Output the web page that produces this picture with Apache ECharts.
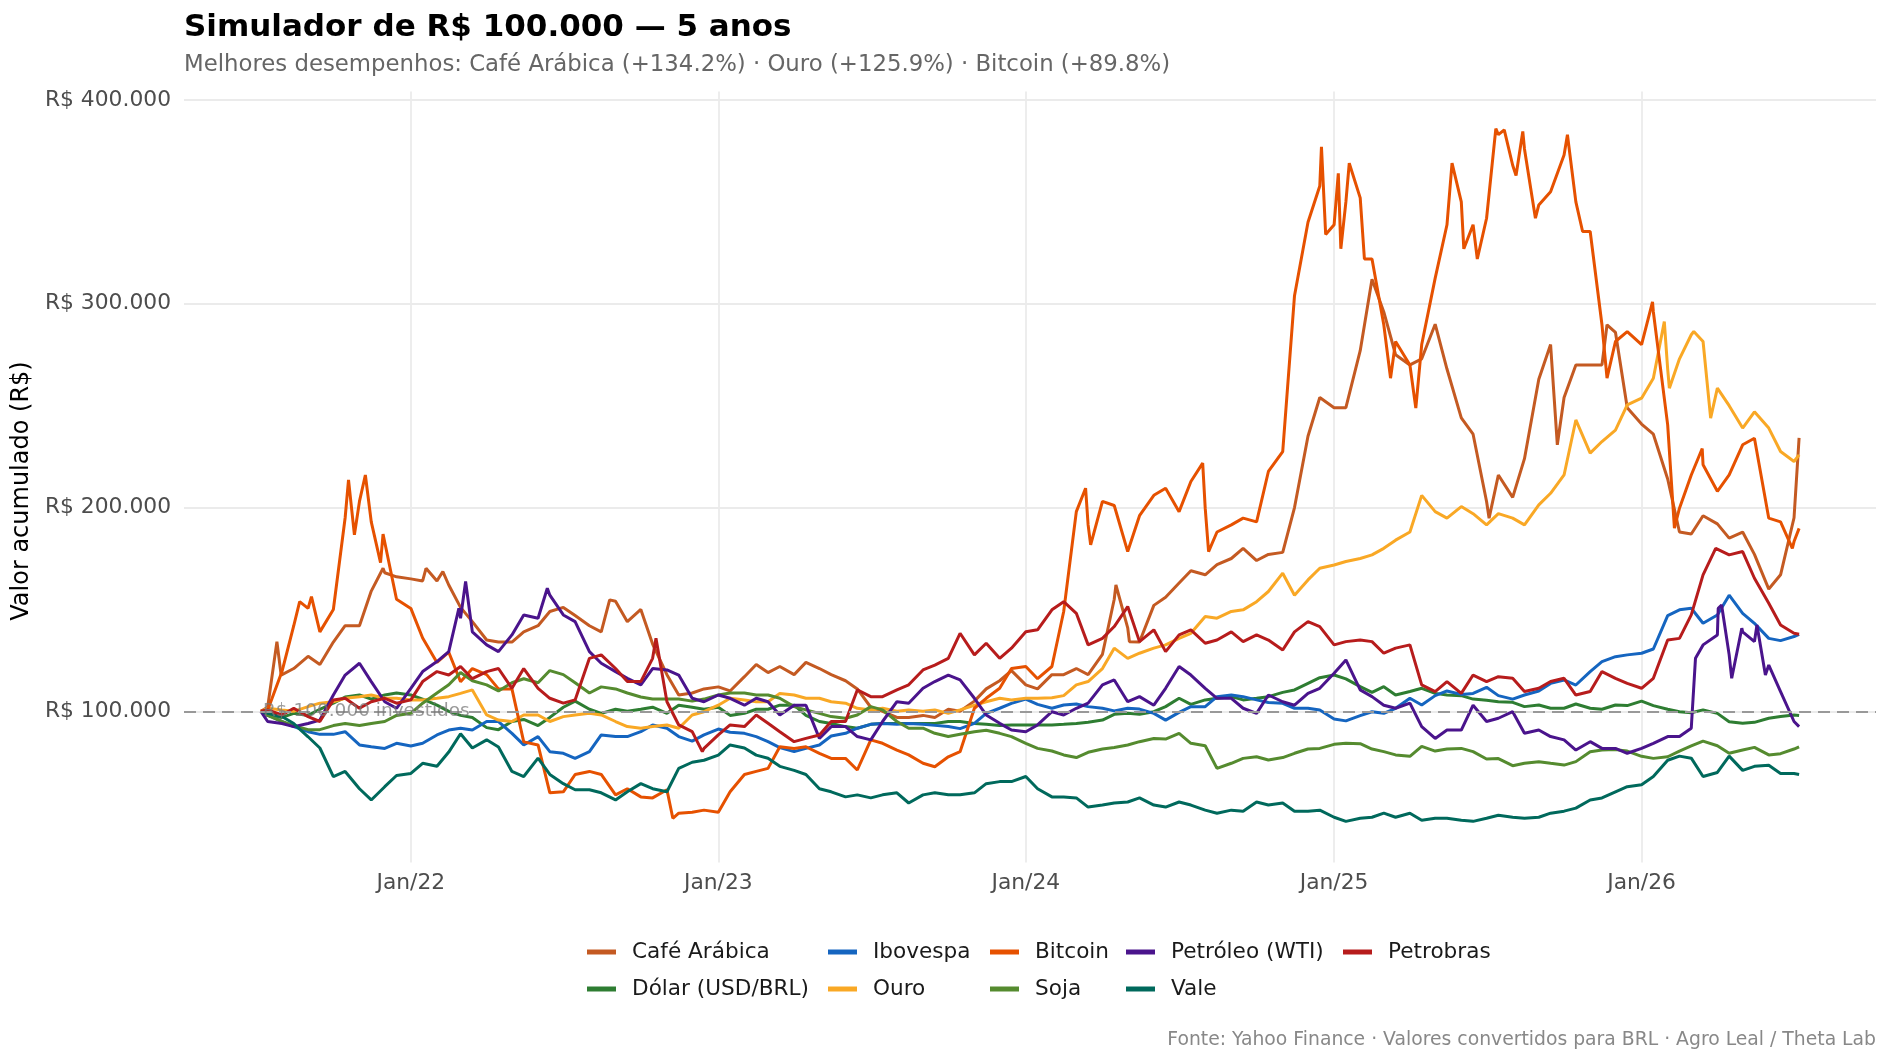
<!DOCTYPE html>
<html>
<head>
<meta charset="utf-8">
<script src="https://cdn.jsdelivr.net/npm/echarts@6/dist/echarts.min.js"></script>
<style>
  html, body { margin: 0; padding: 0; background: #fff; }
  #chart { width: 1889px; height: 1062px; }
</style>
</head>
<body>
<div id="chart"></div>
<script>
// datas de amostragem: dias 1 e 15 de cada mês
const datas = ['2021-07-07', '2021-07-15'];
for (let y = 2021; y <= 2026; y++) {
  for (let m = 1; m <= 12; m++) {
    if (y === 2021 && m < 8) continue;
    if (y === 2026 && m > 6) break;
    const mm = String(m).padStart(2, '0');
    datas.push(y + '-' + mm + '-01', y + '-' + mm + '-15');
  }
}
datas.push('2026-07-01', '2026-07-07');

// valor acumulado, em milhares de R$
const cafe = [
  100, 102, 118, 121, 127, 123, 134, 142, 142, 159, 168, 166,
  165, 164, 164, 162, 151, 144, 135, 134, 134, 139, 142, 149, 151, 147, 142, 139, 154, 144, 150, 133, 118, 108, 109, 111,
  112, 110, 117, 123, 119, 122, 118, 124, 121, 118, 115, 111, 102, 100, 97, 97, 98, 97, 101, 100, 105, 111, 115, 120,
  113, 111, 118, 118, 121, 118, 128, 155, 141, 134, 152, 156, 163, 169, 167, 172, 175, 180, 174, 177, 178, 200, 235, 254,
  249, 249, 277, 312, 296, 275, 270, 273, 290, 268, 244, 236, 203, 216, 205, 224, 263, 280, 254, 270, 270, 270, 286, 249,
  241, 236, 214, 188, 187, 196, 192, 185, 188, 177, 160, 167, 195, 234.2
];
const dolar = [
  100, 98, 97, 99, 98, 101, 104, 107, 108, 106, 108, 109,
  108, 106, 103, 100, 98, 97, 92, 91, 95, 96, 93, 97, 102, 105, 101, 99, 101, 100, 101, 102, 99, 103, 102, 101,
  102, 98, 99, 101, 101, 103, 103, 98, 95, 94, 92.5, 91.7, 93.6, 94, 94, 94, 94, 94, 95, 95, 94, 93.6, 93, 93.3,
  93.3, 93.3, 93.3, 93.6, 94, 94.6, 95.7, 98.5, 99, 98.5, 99.8, 102.3, 106.4, 103.4, 105.6, 106.4, 107.2, 105.6, 106.4, 107.2, 109.3, 110.5, 113.7, 116.5,
  117.8, 115.9, 112.1, 109.3, 112.1, 108, 109.7, 111.3, 108.8, 108, 107.7, 106, 105.4, 104.7, 104.4, 102.3, 103.1, 101.5, 101.5, 103.6, 101.5, 101, 103.1, 102.8,
  105, 102.8, 101, 99.8, 99.3, 100.7, 99, 94.9, 94.1, 94.6, 96.6, 97.5, 98.2, 97.9
];
const ibovespa = [
  100, 98.2, 95, 92.5, 90, 88.7, 88.7, 90, 83.5, 82.6, 81.8, 84.3,
  83, 84.3, 88.4, 90.8, 91.7, 90.8, 95, 95, 89.2, 83.5, 87.6, 80.2, 79.4, 76.9, 80.2, 88.4, 87.6, 87.6, 90, 93.3, 91.7, 87.6, 85.4, 88.4,
  91.3, 89.7, 89.2, 87.6, 85.1, 82.2, 80.2, 81.8, 83.5, 87.9, 89.2, 91.7, 93.6, 94, 93.6, 94, 93.6, 93.1, 92.5, 91.5, 94.1, 99, 101.5, 103.9,
  106, 103.4, 101.5, 103.1, 103.6, 102.3, 101.5, 100.2, 101.5, 101.1, 99, 95.7, 99.5, 102.3, 102.3, 107.2, 108, 107.2, 105.6, 104.3, 103.9, 101.5, 101.5, 100.7,
  96.2, 95.3, 97.9, 99.8, 99, 101.5, 106.4, 103.1, 107.7, 110, 108.3, 108.8, 111.8, 107.7, 106, 108, 110, 113.7, 115.4, 112.9, 119.5, 124.4, 126.8, 127.7,
  128.5, 130.6, 147, 149.8, 150.6, 143.2, 147.3, 157, 148.1, 143.2, 135.8, 134.7, 136.7, 137.8
];
const ouro = [
  100, 101.5, 100.6, 100, 102.3, 104, 104.7, 106.4, 107.2, 108, 106.4, 106.4,
  105.6, 105.6, 106.4, 107.2, 108.8, 110.5, 98.2, 95.7, 95, 98.2, 98.2, 95, 97.4, 98.2, 99, 98.2, 95, 92.5, 91.7, 92.5, 93.3, 91.7, 98.2, 99.8,
  103, 106.4, 105.6, 104.7, 104.7, 108.8, 108, 106.4, 106.4, 104.7, 104, 101.5, 100.7, 101.5, 100, 100.6, 100, 100.7, 99, 100.7, 103, 104.7, 106.4, 105.6,
  106.4, 106.4, 106.7, 107.7, 113, 114.6, 121, 131, 126, 128.5, 131, 132.6, 135.8, 138.3, 146.5, 145.7, 149, 149.8, 153.8, 158.8, 167.8, 157, 164.5, 170.2,
  171.8, 173.5, 175, 176.8, 180, 184, 188, 206, 198, 194.8, 200.5, 197, 191.5, 197, 194.8, 191.5, 201.3, 207, 216, 243, 226.7, 232.4, 238, 250.4,
  253.7, 263.5, 268, 273, 284.8, 281.5, 258.6, 250, 239, 247, 239, 227.5, 222.6, 225.9
];
const bitcoin = [
  100, 100.5, 119.5, 142, 150.5, 139, 150, 195, 203, 193, 183, 155,
  150.5, 136, 124, 129, 114.5, 121, 118, 111, 111, 85, 83.5, 60, 60.5, 69, 70.5, 69, 59, 62, 58, 57.5, 61.5, 50, 50.5, 51.5,
  50.5, 60.5, 69, 70.5, 72, 82.6, 81.8, 82.6, 79.4, 76.9, 76.9, 71.2, 86, 84.3, 81, 78.6, 74.5, 72.8, 77.7, 80.2, 101.5, 106.4, 111.3, 121,
  122, 116, 122, 149, 198, 191.5, 203, 201, 178.4, 196, 206, 209.5, 198, 212.8, 199.7, 188, 191.5, 194.8, 193, 217.7, 227.5, 304, 340, 357.8,
  338.8, 350, 352, 322, 289.7, 281.5, 270, 280, 312.6, 338.8, 350, 338.8, 342, 383, 368, 376, 348.5, 355, 373, 350, 335.5, 289.7, 281.5, 286.4,
  280, 296, 240.6, 199.7, 216, 221, 208, 216, 230.8, 234, 194.8, 193, 183.3, 189.8
];
const soja = [
  100, 98, 95, 93, 91, 91, 93, 94, 93, 94, 95, 98,
  99, 104, 109, 113, 119, 115, 113, 110, 114, 116, 114, 120, 118, 114, 109, 112, 111, 109, 107, 106, 106, 106, 105, 106,
  108, 109, 109, 108, 108, 106.4, 102.3, 100.7, 99, 97.4, 96.6, 98.2, 102.3, 100.7, 95, 91.7, 91.7, 89.2, 87.6, 88.7, 90, 90.7, 89.2, 87.6,
  84.3, 81.8, 80.5, 78.6, 77.3, 79.9, 81.5, 82.2, 83.5, 85.1, 86.7, 86.4, 89.2, 84.3, 83.1, 72, 74.5, 76.9, 77.7, 76.1, 77.3, 79.4, 81.5, 81.8,
  83.8, 84.3, 84.1, 81.5, 80.2, 78.6, 77.9, 82.8, 80.5, 81.5, 81.8, 80.2, 76.6, 76.8, 73.3, 74.5, 75.3, 74.5, 73.6, 75.3, 80.2, 81, 81.2, 80.5,
  77.9, 76.9, 77.7, 80.5, 83, 85.4, 83.1, 79.4, 81, 82.3, 78.6, 79.2, 81.5, 82.6
];
const petroleo = [
  100, 95, 94, 92.5, 94, 95.7, 108, 117.8, 123.6, 114.6, 104.7, 101.5,
  111.3, 119.5, 124.4, 129.3, 145.7, 139, 132.6, 129.3, 137.5, 147.3, 145.7, 157, 147.3, 144, 129.3, 123.6, 119.5, 116.2, 113, 121, 120.3, 117.8, 106.4, 104.7,
  108, 106.4, 103, 106.4, 104.7, 98.2, 103, 103, 86.7, 92.5, 92.5, 87.6, 86, 95, 104.7, 104, 111.3, 114.6, 117.8, 115.4, 106.4, 98.2, 94.1, 90.8,
  90, 93.3, 99.8, 98.2, 101.5, 104, 113, 115.4, 104.7, 107.2, 103, 111.3, 122, 117.8, 111.3, 106.4, 106.4, 101.5, 99, 108, 104.7, 103, 108.8, 111.3,
  118.7, 125.2, 110.5, 107.2, 103, 101.5, 104, 92.5, 86.7, 90.8, 90.8, 103, 95, 96.6, 99.8, 89.2, 90.8, 87.6, 86, 81, 85.1, 81.8, 81.8, 79.4,
  81.8, 84.3, 87.6, 87.6, 91.7, 132.6, 137.5, 127.7, 139, 134.2, 122.7, 109.7, 95, 92.5
];
const vale = [
  100, 99, 97.5, 94, 87.5, 82, 68, 70.5, 62, 56.5, 63, 68.5,
  69.5, 74.5, 73, 80, 89, 82, 86, 82.5, 70.5, 68, 77, 69, 64.5, 61.5, 61.5, 60, 56.5, 60.5, 64.5, 62, 60.5, 72, 75, 76,
  78.5, 83.5, 82, 78.5, 77, 73, 71, 69, 62, 60.5, 58, 59, 57.5, 59, 60, 55, 59, 60, 59, 59, 60, 64.5, 65.5, 65.5,
  68, 62, 58, 58, 57.5, 53, 54, 55, 55.5, 57.5, 54, 53, 55.5, 54, 51.5, 50, 51.5, 51, 55.5, 54, 55, 51, 51, 51.5,
  48, 46, 47.5, 48, 50, 48, 50, 46.5, 47.5, 47.5, 46.5, 46, 47.5, 49, 48, 47.5, 48, 50, 51, 52.5, 56.5, 57.5, 60.5, 63,
  64, 68, 76, 78, 77, 68, 70, 78, 71, 73, 73.5, 69.5, 69.5, 69
];
const petrobras = [
  100, 100.7, 98.2, 101.5, 97.4, 95, 105.6, 106.4, 101.5, 104.7, 106.4, 104,
  105.6, 114.6, 119.5, 117.8, 122, 116, 119.5, 121, 111.3, 121, 111.3, 106.4, 104, 105.6, 126, 127.7, 121, 114.6, 114.6, 126, 104.7, 93.3, 90, 81.8,
  88.4, 93.3, 92.5, 98.2, 94.1, 90, 85.1, 86.7, 88.4, 95, 95, 110.5, 107.2, 107.2, 110.5, 113, 120.3, 122.7, 126, 138.3, 127.7, 133.4, 126, 131,
  139, 140, 149.8, 153.8, 148.1, 132.6, 135.8, 141.6, 151.4, 134.2, 140, 129.3, 137.5, 140, 133.4, 135, 139, 134.2, 137.5, 135, 130.1, 139, 144, 141.6,
  132.6, 134.2, 135, 134.2, 128.5, 131, 132.6, 113, 109.7, 114.6, 108.8, 117.8, 114.6, 117, 116.2, 109.7, 111.3, 114.6, 116.2, 108, 109.7, 119.5, 116.2, 113.7,
  111.3, 116.2, 135, 135.8, 147.3, 167, 179.2, 176.8, 178.4, 165.3, 153, 142.4, 138.3, 137.8
];

// picos e vales lidos fora da grade quinzenal
const bitcoinPicos = [
  ['2021-08-22', 153.8], ['2021-09-05', 156.3], ['2021-10-19', 213.6], ['2021-10-26', 186.6],
  ['2021-11-08', 216], ['2021-11-26', 173], ['2021-11-29', 187], ['2022-11-08', 47.5],
  ['2024-03-12', 209.5], ['2024-03-18', 181.7], ['2024-07-29', 221.8], ['2024-08-05', 178.4],
  ['2024-12-17', 377], ['2024-12-22', 334], ['2025-01-06', 364], ['2025-01-09', 327],
  ['2025-01-19', 369], ['2025-02-06', 322], ['2025-03-09', 263.5], ['2025-04-08', 248.8],
  ['2025-05-21', 369], ['2025-06-04', 327], ['2025-06-20', 322], ['2025-07-12', 386],
  ['2025-07-22', 385.4], ['2025-08-05', 363], ['2025-08-13', 384.6], ['2025-08-28', 342],
  ['2025-10-05', 383], ['2025-10-23', 335.5], ['2025-11-21', 263.5], ['2026-01-14', 301],
  ['2026-02-09', 189.9], ['2026-03-14', 229], ['2026-06-29', 180]
];
const cafePicos = [
  ['2021-07-26', 134.2], ['2021-07-31', 117.8], ['2021-11-29', 170.2], ['2022-01-19', 170.2],
  ['2022-02-08', 168.6], ['2022-08-25', 154.7], ['2024-04-17', 162], ['2024-05-03', 134.2],
  ['2025-07-04', 194.8], ['2025-09-23', 230.8], ['2025-11-21', 289.7]
];
const ouroPicos = [
  ['2026-01-28', 291.3], ['2026-02-03', 258.6], ['2026-03-04', 286.4], ['2026-03-24', 243.9]
];
const petroleoPicos = [
  ['2022-02-27', 150.6], ['2022-03-07', 163.7], ['2022-06-12', 160.4], ['2026-03-06', 126],
  ['2026-04-02', 150.6], ['2026-04-06', 152.2], ['2026-04-18', 116.2], ['2026-04-30', 140.8],
  ['2026-05-18', 142.4], ['2026-05-28', 117.8]
];
const petrobrasPicos = [
  ['2022-10-19', 135.8], ['2022-12-13', 80.2], ['2026-03-30', 180]
];

// ordem de desenho (a última fica por cima)
const ativos = [
  { nome: 'Café Arábica', cor: '#C45A22', valores: cafe, picos: cafePicos },
  { nome: 'Dólar (USD/BRL)', cor: '#2E7D32', valores: dolar },
  { nome: 'Ibovespa', cor: '#1565C0', valores: ibovespa },
  { nome: 'Ouro', cor: '#F9A825', valores: ouro, picos: ouroPicos },
  { nome: 'Bitcoin', cor: '#E65100', valores: bitcoin, picos: bitcoinPicos },
  { nome: 'Soja', cor: '#558B2F', valores: soja },
  { nome: 'Petróleo (WTI)', cor: '#4A148C', valores: petroleo, picos: petroleoPicos },
  { nome: 'Vale', cor: '#00695C', valores: vale },
  { nome: 'Petrobras', cor: '#B71C1C', valores: petrobras, picos: petrobrasPicos }
];

const colunasLegenda = [
  ['Café Arábica', 'Dólar (USD/BRL)'],
  ['Ibovespa', 'Ouro'],
  ['Bitcoin', 'Soja'],
  ['Petróleo (WTI)', 'Vale'],
  ['Petrobras']
];
const legendaX = [587, 828, 990, 1126, 1343];

const fonte = 'DejaVu Sans';
const t0 = +new Date(datas[0]);
const t1 = +new Date(datas[datas.length - 1]);
const folga = (t1 - t0) * 0.05;

const chart = echarts.init(document.getElementById('chart'));

const series = ativos.map(a => {
  const pontos = datas.map((d, i) => [d, a.valores[i]]).concat(a.picos || []);
  pontos.sort((p, q) => new Date(p[0]) - new Date(q[0]));
  return {
    name: a.nome,
    type: 'line',
    color: a.cor,
    showSymbol: false,
    symbol: 'none',
    lineStyle: { width: 3, color: a.cor },
    data: pontos
  };
});

// linha de referência dos R$ 100.000 investidos
series.push({
  name: 'ref',
  type: 'line',
  data: [],
  z: 5,
  markLine: {
    silent: true,
    symbol: 'none',
    label: { show: false },
    lineStyle: { color: '#999', type: [12, 7], width: 2.2 },
    data: [{ yAxis: 100 }]
  },
  markPoint: {
    silent: true,
    symbol: 'circle',
    symbolSize: 0,
    data: [{ coord: [datas[0], 100] }],
    label: {
      show: true,
      position: 'right',
      distance: 2,
      formatter: 'R$ 100.000 investidos',
      color: 'rgba(120,120,120,0.75)',
      fontSize: 18.5,
      fontFamily: fonte
    }
  }
});

chart.setOption({
  animation: false,
  backgroundColor: '#fff',
  textStyle: { fontFamily: fonte },
  title: [
    {
      text: 'Simulador de R$ 100.000 — 5 anos',
      left: 184, top: 12, padding: 0,
      textStyle: { fontSize: 31, fontWeight: 'bold', color: '#000', fontFamily: fonte }
    },
    {
      text: 'Melhores desempenhos: Café Arábica (+134.2%) · Ouro (+125.9%) · Bitcoin (+89.8%)',
      left: 184, top: 54, padding: 0,
      textStyle: { fontSize: 22.8, fontWeight: 'normal', color: '#666', fontFamily: fonte }
    },
    {
      text: 'Fonte: Yahoo Finance · Valores convertidos para BRL · Agro Leal / Theta Lab',
      right: 13, top: 1031, padding: 0,
      textStyle: { fontSize: 18.8, fontWeight: 'normal', color: '#888', fontFamily: fonte }
    }
  ],
  legend: colunasLegenda.map((col, i) => ({
    data: col,
    orient: 'vertical',
    left: legendaX[i],
    top: 941,
    padding: 0,
    icon: 'rect',
    itemWidth: 29,
    itemHeight: 5,
    itemGap: 15,
    selectedMode: false,
    textStyle: { fontSize: 21.6, color: '#1a1a1a', fontFamily: fonte, padding: [0, 0, 0, 11] }
  })),
  grid: { left: 184, right: 13, top: 91.5, bottom: 199.5, containLabel: false, outerBoundsMode: 'none' },
  xAxis: {
    type: 'time',
    min: t0 - folga,
    max: t1 + folga,
    splitNumber: 5,
    minInterval: 360 * 24 * 3600 * 1000,
    axisLine: { show: false },
    axisTick: { show: false },
    splitLine: { show: true, showMinLine: false, showMaxLine: false, lineStyle: { color: '#ebebeb', width: 1.8 } },
    axisLabel: {
      fontSize: 21.8,
      color: '#4d4d4d',
      margin: 10,
      showMinLabel: false,
      showMaxLabel: false,
      formatter: v => 'Jan/' + String(new Date(v).getFullYear()).slice(2)
    }
  },
  yAxis: {
    type: 'value',
    min: 25.8,
    max: 404.2,
    splitNumber: 4,
    name: 'Valor acumulado (R$)',
    nameLocation: 'middle',
    nameGap: 147,
    nameTextStyle: { fontSize: 24, color: '#000', fontFamily: fonte, padding: [0, 28, 0, 0] },
    axisLine: { show: false },
    axisTick: { show: false },
    axisLabel: {
      fontSize: 21.8,
      color: '#4d4d4d',
      margin: 13,
      showMinLabel: false,
      showMaxLabel: false,
      formatter: v => (v % 100 === 0 ? 'R$ ' + v + '.000' : '')
    },
    splitLine: {
      showMinLine: false,
      showMaxLine: false,
      lineStyle: { color: '#ebebeb', width: 1.8 }
    }
  },
  series: series
});
</script>
</body>
</html>
